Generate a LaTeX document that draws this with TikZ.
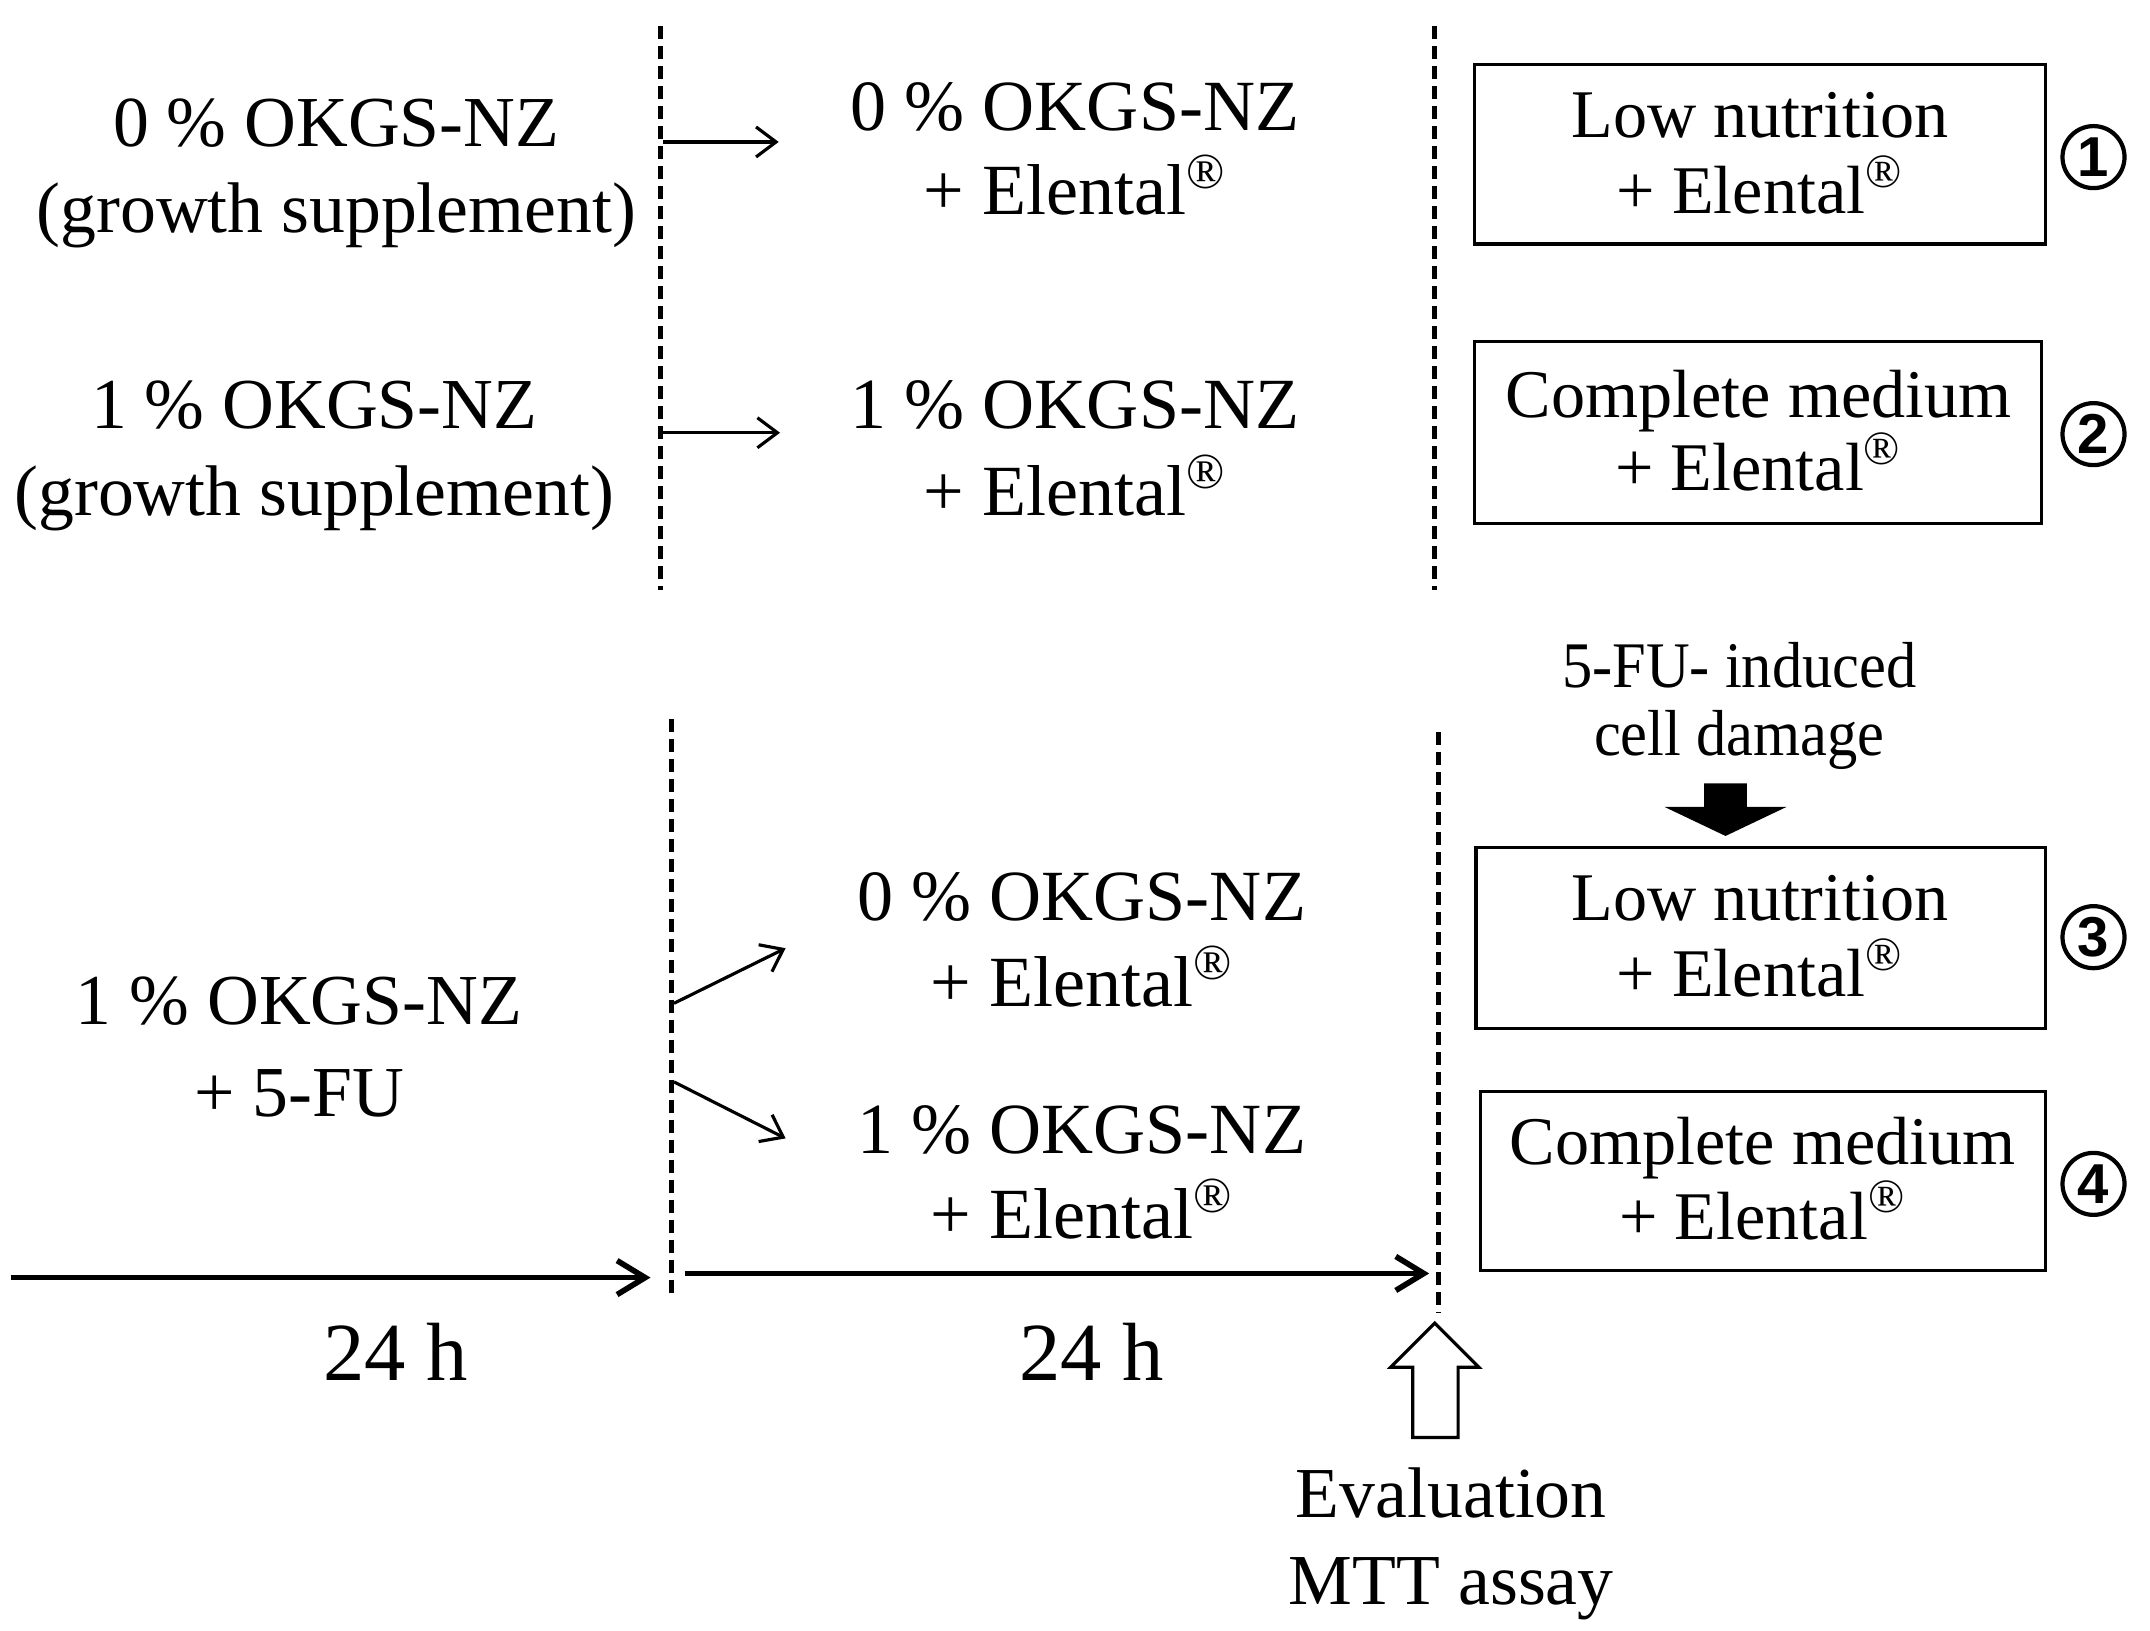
\documentclass[tikz,border=0pt]{standalone}
\usepackage{fontspec}
\usepackage{graphicx}
\setmainfont{Liberation Serif}
\newfontfamily\circsans{Liberation Sans}
\usetikzlibrary{arrows.meta}
\newcommand\twol[2]{\begin{tabular}[t]{@{}c@{}}#1\\#2\end{tabular}}
\newcommand\reg{\smash{\textsuperscript{®}}}
\tikzset{
  txt/.style={inner sep=0pt, anchor=base},
  dline/.style={line width=1.4pt, dash pattern=on 0.13cm off 0.07cm},
  thinarr/.style={line width=0.9pt, -{Straight Barb[length=0.2cm,width=0.3cm]}},
  timearr/.style={line width=1.6pt, -{Straight Barb[length=0.28cm,width=0.34cm]}},
  boxnode/.style={draw, line width=0.9pt, inner sep=0pt},
  circnum/.style={circle, draw, line width=1.2pt, minimum size=0.62cm, inner sep=0pt,
    font=\circsans\bfseries\fontsize{16}{16}\selectfont},
}
\begin{document}
\begin{tikzpicture}[x=0.0137821cm,y=-0.0137821cm]
\useasboundingbox (0,0) rectangle (1560,1183.4);

% dashed separators
\coordinate (d1t) at (479,19);  \coordinate (d1b) at (479,428);
\coordinate (d2t) at (1041,19); \coordinate (d2b) at (1041,428);
\coordinate (d3t) at (487,522); \coordinate (d3b) at (487,942);
\coordinate (d4t) at (1044,531); \coordinate (d4b) at (1044,952);
\draw[dline] (d1t) -- (d1b);
\draw[dline] (d2t) -- (d2b);
\draw[dline] (d3t) -- (d3b);
\draw[dline] (d4t) -- (d4b);

% left texts
\node[txt, font=\fontsize{20.4}{24.7}\selectfont] (L1) at (244,106) {\twol{0 \% OKGS-NZ}{(growth supplement)}};
\node[txt, font=\fontsize{20.4}{24.7}\selectfont] (L2) at (228,311) {\twol{1 \% OKGS-NZ}{(growth supplement)}};
\node[txt, font=\fontsize{20.4}{26.3}\selectfont] (LL) at (217,743) {\twol{1 \% OKGS-NZ}{+ 5-FU}};

% middle texts
\node[txt, font=\fontsize{20.5}{23.9}\selectfont] (M1) at (780,95) {\twol{0 \% OKGS-NZ}{+ Elental\reg}};
\node[txt, font=\fontsize{20.5}{24.7}\selectfont] (M2) at (780,311) {\twol{1 \% OKGS-NZ}{+ Elental\reg}};
\node[txt, font=\fontsize{20.5}{24.3}\selectfont] (LM1) at (785,668) {\twol{0 \% OKGS-NZ}{+ Elental\reg}};
\node[txt, font=\fontsize{20.5}{24.3}\selectfont] (LM2) at (785,837) {\twol{1 \% OKGS-NZ}{+ Elental\reg}};

% boxes
\node[boxnode, minimum width=5.706cm, minimum height=1.792cm] (B1) at (1277,112) {};
\node[boxnode, minimum width=5.664cm, minimum height=1.819cm] (B2) at (1275.5,314) {};
\node[boxnode, minimum width=5.692cm, minimum height=1.805cm] (B3) at (1277.5,680.5) {};
\node[boxnode, minimum width=5.651cm, minimum height=1.792cm] (B4) at (1279,857) {};
\node[txt, font=\fontsize{19.4}{21.6}\selectfont] (T1) at (1277,100) {\twol{Low nutrition}{+ Elental\reg}};
\node[txt, font=\fontsize{19.4}{20.8}\selectfont] (T2) at (1276,303) {\twol{Complete medium}{+ Elental\reg}};
\node[txt, font=\fontsize{19.4}{21.6}\selectfont] (T3) at (1277,668) {\twol{Low nutrition}{+ Elental\reg}};
\node[txt, font=\fontsize{19.4}{21.2}\selectfont] (T4) at (1279,845) {\twol{Complete medium}{+ Elental\reg}};

% circled numbers
\node[circnum] (C1) at (1519,114) {1};
\node[circnum] (C2) at (1519,315) {2};
\node[circnum] (C3) at (1519,680) {3};
\node[circnum] (C4) at (1519,859) {4};

% 5-FU damage label and black arrow
\node[txt, font=\fontsize{18.5}{19.2}\selectfont] (FU) at (1262,499) {\scalebox{0.93}[1]{\twol{5-FU- induced}{cell damage}}};
\draw[fill=black] (1237,569) -- (1267,569) -- (1267,586) -- (1294,586) -- (1252,606) -- (1210,586) -- (1237,586) -- cycle;

% thin arrows
\coordinate (a1s) at (481,103); \coordinate (a1e) at (565,103);
\coordinate (a2s) at (481,314); \coordinate (a2e) at (566,314);
\coordinate (a3s) at (489,728); \coordinate (a3e) at (570,688);
\coordinate (a4s) at (489,785); \coordinate (a4e) at (570,826);
\draw[thinarr] (a1s) -- (a1e);
\draw[thinarr] (a2s) -- (a2e);
\draw[thinarr] (a3s) -- (a3e);
\draw[thinarr] (a4s) -- (a4e);

% timeline
\coordinate (t1s) at (8,927);   \coordinate (t1e) at (472,927);
\coordinate (t2s) at (497,924); \coordinate (t2e) at (1037,924);
\draw[timearr] (t1s) -- (t1e);
\draw[timearr] (t2s) -- (t2e);
\node[txt, font=\fontsize{23.5}{28}\selectfont] (H1) at (287,1002) {24 h};
\node[txt, font=\fontsize{23.5}{28}\selectfont] (H2) at (792,1002) {24 h};

% hollow evaluation arrow
\draw[line width=0.9pt, fill=white] (1041,960) -- (1073,992) -- (1058,992) -- (1058,1043) -- (1025,1043) -- (1025,992) -- (1009,992) -- cycle;
\node[txt, font=\fontsize{20.4}{24.7}\selectfont] (EV) at (1053,1101) {\twol{Evaluation}{MTT assay}};
\end{tikzpicture}
\end{document}
